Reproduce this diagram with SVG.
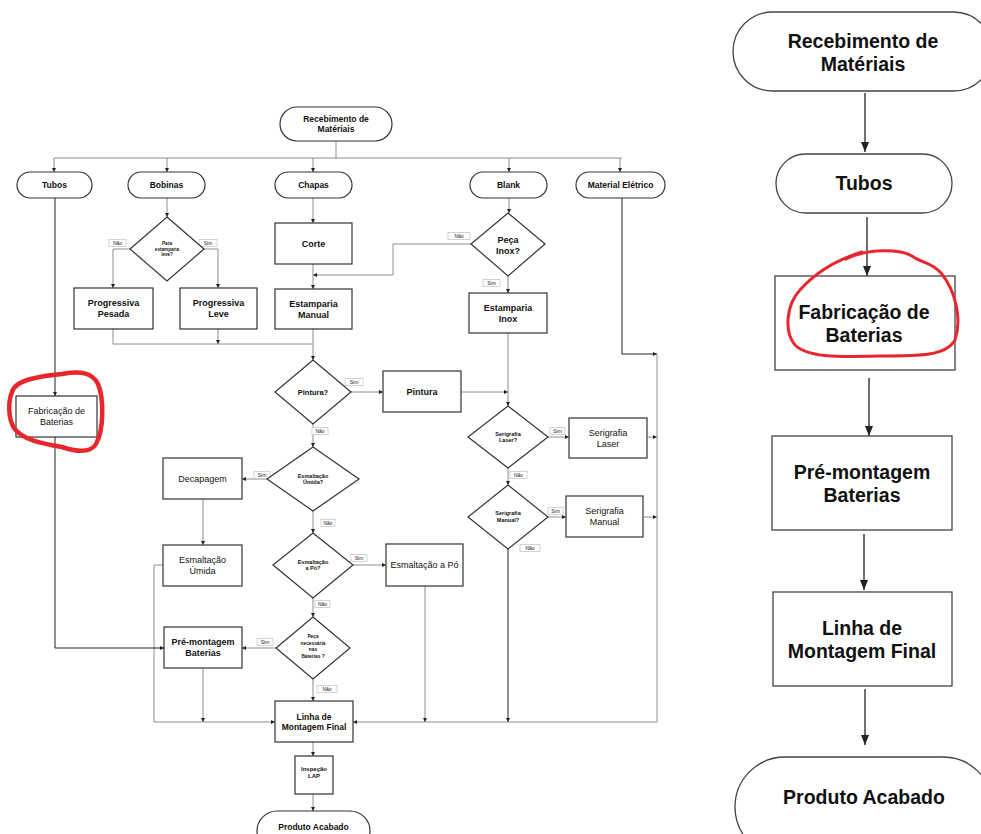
<svg xmlns="http://www.w3.org/2000/svg" width="981" height="834" viewBox="0 0 981 834">
  <style>
    text { font-family: "Liberation Sans", Arial, sans-serif; fill: #111; text-anchor: middle; }
    .shape { fill: #fff; stroke: #333; stroke-width: 1.2; }
    .t8 { font-size: 8.5px; font-weight: bold; }
    .t8r { font-size: 9px; }
    .tb { font-size: 9px; font-weight: bold; }
    .ts { font-size: 5.5px; font-weight: bold; }
    .tl { font-size: 5px; fill: #222; }
    .lbl { fill: #fff; stroke: #c8c8c8; stroke-width: 0.8; }
    .c { fill: none; stroke: #8e8e8e; stroke-width: 1; }
    .cd { fill: none; stroke: #222; stroke-width: 1; }
    .big { fill: #fff; stroke: #444; stroke-width: 1.3; }
    .tB { font-size: 19.5px; font-weight: bold; }
    .cB { fill: none; stroke: #333; stroke-width: 1.4; }
    .red { fill: none; stroke: #e8262d; stroke-linecap: round; stroke-linejoin: round; }
  </style>
  <defs>
    <marker id="ah" viewBox="0 0 6 6" refX="6" refY="3" markerWidth="4" markerHeight="4" orient="auto" markerUnits="userSpaceOnUse">
      <path d="M0,0 L6,3 L0,6 z" fill="#222"/>
    </marker>
    <marker id="AH" viewBox="0 0 10 8" refX="10" refY="4" markerWidth="10" markerHeight="8" orient="auto" markerUnits="userSpaceOnUse">
      <path d="M0,0 L10,4 L0,8 z" fill="#222"/>
    </marker>
  </defs>
  <rect width="981" height="834" fill="#fff"/>

  <!-- ===== Detailed process flow (left) ===== -->
  <g id="connectors-detail">
    <path class="c" d="M336,141 V158 M54,158 H622"/>
    <path class="c" d="M54,158 V172" marker-end="url(#ah)"/>
    <path class="c" d="M167,158 V172" marker-end="url(#ah)"/>
    <path class="c" d="M313,158 V172" marker-end="url(#ah)"/>
    <path class="c" d="M509,158 V172" marker-end="url(#ah)"/>
    <path class="c" d="M620,158 V172" marker-end="url(#ah)"/>
    <path class="c" d="M167,198 V217" marker-end="url(#ah)"/>
    <path class="c" d="M130,249 H113 V288" marker-end="url(#ah)"/>
    <path class="c" d="M204,249 H218 V288" marker-end="url(#ah)"/>
    <path class="c" d="M313,198 V223" marker-end="url(#ah)"/>
    <path class="c" d="M313,264 V289" marker-end="url(#ah)"/>
    <path class="c" d="M471,244 H393 V275 H313" marker-end="url(#ah)"/>
    <path class="c" d="M509,198 V213" marker-end="url(#ah)"/>
    <path class="c" d="M508,276 V293" marker-end="url(#ah)"/>
    <path class="c" d="M113,329 V344 H313"/>
    <path class="c" d="M218,329 V344" marker-end="url(#ah)"/>
    <path class="c" d="M313,329 V360" marker-end="url(#ah)"/>
    <path class="c" d="M351,392 H383" marker-end="url(#ah)"/>
    <path class="c" d="M461,392 H508" marker-end="url(#ah)"/>
    <path class="c" d="M508,333 V406" marker-end="url(#ah)"/>
    <path class="c" d="M548,437 H569" marker-end="url(#ah)"/>
    <path class="c" d="M647,437 H657" marker-end="url(#ah)"/>
    <path class="c" d="M508,468 V485" marker-end="url(#ah)"/>
    <path class="c" d="M548,517 H566" marker-end="url(#ah)"/>
    <path class="c" d="M643,517 H657" marker-end="url(#ah)"/>
    <path class="cd" d="M508,549 V722" marker-end="url(#ah)"/>
    <path class="cd" d="M622,198 V354 H657" marker-end="url(#ah)"/>
    <path class="c" d="M657,354 V722 H353" marker-end="url(#ah)"/>
    <path class="c" d="M313,424 V447" marker-end="url(#ah)"/>
    <path class="c" d="M267,479 H242" marker-end="url(#ah)"/>
    <path class="c" d="M203,499 V545" marker-end="url(#ah)"/>
    <path class="c" d="M163,565 H154 V722 H275" marker-end="url(#ah)"/>
    <path class="c" d="M313,511 V533" marker-end="url(#ah)"/>
    <path class="c" d="M353,565 H386" marker-end="url(#ah)"/>
    <path class="c" d="M425,586 V722" marker-end="url(#ah)"/>
    <path class="c" d="M313,598 V617" marker-end="url(#ah)"/>
    <path class="c" d="M276,648 H242" marker-end="url(#ah)"/>
    <path class="c" d="M203,668 V722" marker-end="url(#ah)"/>
    <path class="c" d="M313,679 V701" marker-end="url(#ah)"/>
    <path class="cd" d="M55,198 V396" marker-end="url(#ah)"/>
    <path class="cd" d="M55,437 V648 H164" marker-end="url(#ah)"/>
    <path class="c" d="M313,742 V756" marker-end="url(#ah)"/>
    <path class="c" d="M313,794 V811" marker-end="url(#ah)"/>
  </g>

  <g id="labels-detail">
    <rect class="lbl" x="109" y="239.5" width="17" height="7"/><text class="tl" x="117.5" y="245">Não</text>
    <rect class="lbl" x="199" y="239.5" width="18" height="7"/><text class="tl" x="208" y="245">Sim</text>
    <rect class="lbl" x="448" y="232.5" width="22" height="7"/><text class="tl" x="459" y="238">Não</text>
    <rect class="lbl" x="483" y="279.5" width="17" height="7"/><text class="tl" x="491.5" y="285">Sim</text>
    <rect class="lbl" x="345" y="378.5" width="18" height="7"/><text class="tl" x="354" y="384">Sim</text>
    <rect class="lbl" x="312" y="427.5" width="16" height="7"/><text class="tl" x="320" y="433">Não</text>
    <rect class="lbl" x="254" y="471.5" width="16" height="7"/><text class="tl" x="262" y="477">Sim</text>
    <rect class="lbl" x="321" y="519.5" width="14" height="7"/><text class="tl" x="328" y="525">Não</text>
    <rect class="lbl" x="351" y="554.5" width="16" height="7"/><text class="tl" x="359" y="560">Sim</text>
    <rect class="lbl" x="315" y="600.5" width="15" height="7"/><text class="tl" x="322.5" y="606">Não</text>
    <rect class="lbl" x="257" y="638.5" width="16" height="7"/><text class="tl" x="265" y="644">Sim</text>
    <rect class="lbl" x="317" y="685.5" width="20" height="7"/><text class="tl" x="327" y="691">Não</text>
    <rect class="lbl" x="550" y="427.5" width="15" height="7"/><text class="tl" x="557.5" y="433">Sim</text>
    <rect class="lbl" x="510" y="471.5" width="17" height="7"/><text class="tl" x="518.5" y="477">Não</text>
    <rect class="lbl" x="548" y="507.5" width="15" height="7"/><text class="tl" x="555.5" y="513">Sim</text>
    <rect class="lbl" x="520" y="544.5" width="20" height="7"/><text class="tl" x="530" y="550">Não</text>
  </g>

  <g id="n-receb">
    <rect class="shape" x="280" y="107" width="112" height="34" rx="17"/>
    <text class="t8" x="336" y="122">Recebimento de</text>
    <text class="t8" x="336" y="132">Matériais</text>
  </g>
  <g id="n-tubos"><rect class="shape" x="17" y="172" width="75" height="26" rx="13"/><text class="t8" x="54.5" y="188">Tubos</text></g>
  <g id="n-bobinas"><rect class="shape" x="128" y="172" width="77" height="26" rx="13"/><text class="t8" x="166.5" y="188">Bobinas</text></g>
  <g id="n-chapas"><rect class="shape" x="275" y="172" width="77" height="26" rx="13"/><text class="t8" x="313.5" y="188">Chapas</text></g>
  <g id="n-blank"><rect class="shape" x="470" y="172" width="77" height="26" rx="13"/><text class="t8" x="508.5" y="188">Blank</text></g>
  <g id="n-material"><rect class="shape" x="576" y="172" width="89" height="26" rx="13"/><text class="t8" x="620.5" y="188">Material Elétrico</text></g>

  <g id="d-estamp-leve">
    <polygon class="shape" points="167,217 204,249 167,281 130,249"/>
    <text class="ts" x="167" y="245" style="font-size:4.6px">Para</text>
    <text class="ts" x="167" y="250.5" style="font-size:4.6px">estamparia</text>
    <text class="ts" x="167" y="256" style="font-size:4.6px">leve?</text>
  </g>
  <g id="n-prog-pesada"><rect class="shape" x="74" y="288" width="79" height="41"/><text class="tb" x="113.5" y="306">Progressiva</text><text class="tb" x="113.5" y="317">Pesada</text></g>
  <g id="n-prog-leve"><rect class="shape" x="180" y="288" width="77" height="41"/><text class="tb" x="218.5" y="306">Progressiva</text><text class="tb" x="218.5" y="317">Leve</text></g>
  <g id="n-corte"><rect class="shape" x="275" y="223" width="77" height="41"/><text class="tb" x="313.5" y="247">Corte</text></g>
  <g id="n-estamp-manual"><rect class="shape" x="275" y="289" width="77" height="40"/><text class="tb" x="313.5" y="307">Estamparia</text><text class="tb" x="313.5" y="318">Manual</text></g>

  <g id="d-inox">
    <polygon class="shape" points="508,213 545,244 508,276 471,244"/>
    <text class="tb" x="508" y="243">Peça</text>
    <text class="tb" x="508" y="254">Inox?</text>
  </g>
  <g id="n-estamp-inox"><rect class="shape" x="469" y="293" width="78" height="40"/><text class="tb" x="508" y="311">Estamparia</text><text class="tb" x="508" y="322">Inox</text></g>

  <g id="n-fabricacao"><rect class="shape" x="16" y="396" width="81" height="41"/><text class="t8r" x="56.5" y="414">Fabricação de</text><text class="t8r" x="56.5" y="425">Baterias</text></g>

  <g id="d-pintura"><polygon class="shape" points="313,360 351,392 313,424 275,392"/><text class="ts" x="313" y="395" style="font-size:7.5px">Pintura?</text></g>
  <g id="n-pintura"><rect class="shape" x="383" y="371" width="78" height="41"/><text class="tb" x="422" y="395">Pintura</text></g>

  <g id="d-ser-laser"><polygon class="shape" points="508,406 548,437 508,468 468,437"/><text class="ts" x="508" y="435.5">Serigrafia</text><text class="ts" x="508" y="442">Laser?</text></g>
  <g id="n-ser-laser"><rect class="shape" x="569" y="418" width="78" height="40"/><text class="t8r" x="608" y="436">Serigrafia</text><text class="t8r" x="608" y="447">Laser</text></g>
  <g id="d-ser-manual"><polygon class="shape" points="508,485 548,517 508,549 468,517"/><text class="ts" x="508" y="515">Serigrafia</text><text class="ts" x="508" y="521.5">Manual?</text></g>
  <g id="n-ser-manual"><rect class="shape" x="566" y="496" width="77" height="41"/><text class="t8r" x="604.5" y="514">Serigrafia</text><text class="t8r" x="604.5" y="525">Manual</text></g>

  <g id="d-esm-umida"><polygon class="shape" points="313,447 359,479 313,511 267,479"/><text class="ts" x="313" y="477.5">Esmaltação</text><text class="ts" x="313" y="484">Úmida?</text></g>
  <g id="n-decapagem"><rect class="shape" x="163" y="458" width="79" height="41"/><text class="t8r" x="202.5" y="482">Decapagem</text></g>
  <g id="n-esm-umida"><rect class="shape" x="163" y="545" width="79" height="41"/><text class="t8r" x="202.5" y="563">Esmaltação</text><text class="t8r" x="202.5" y="574">Úmida</text></g>

  <g id="d-esm-po"><polygon class="shape" points="313,533 353,565 313,598 273,565"/><text class="ts" x="313" y="563.5">Esmaltação</text><text class="ts" x="313" y="570">a Pó?</text></g>
  <g id="n-esm-po"><rect class="shape" x="386" y="544" width="77" height="42"/><text class="t8r" x="424.5" y="568">Esmaltação a Pó</text></g>

  <g id="d-peca-nec">
    <polygon class="shape" points="313,617 350,648 313,679 276,648"/>
    <text class="ts" x="313" y="638" style="font-size:4.8px">Peça</text>
    <text class="ts" x="313" y="644.5" style="font-size:4.8px">necessária</text>
    <text class="ts" x="313" y="651" style="font-size:4.8px">nas</text>
    <text class="ts" x="313" y="657.5" style="font-size:4.8px">Baterias ?</text>
  </g>
  <g id="n-pre-montagem"><rect class="shape" x="164" y="627" width="78" height="41"/><text class="tb" x="203" y="645">Pré-montagem</text><text class="tb" x="203" y="656">Baterias</text></g>

  <g id="n-linha"><rect class="shape" x="275" y="701" width="78" height="41"/><text class="t8" x="314" y="720">Linha de</text><text class="t8" x="314" y="730">Montagem Final</text></g>
  <g id="n-inspecao"><rect class="shape" x="295" y="756" width="38" height="38"/><text class="ts" x="314" y="771" style="font-size:6px">Inspeção</text><text class="ts" x="314" y="778" style="font-size:6px">LAP</text></g>
  <g id="n-produto"><rect class="shape" x="257" y="811" width="113" height="40" rx="20"/><text class="t8" x="313.5" y="830">Produto Acabado</text></g>

  <!-- ===== Simplified battery route (right) ===== -->
  <g id="connectors-route">
    <path class="cB" d="M865,93 V152" marker-end="url(#AH)"/>
    <path class="cB" d="M867,217 V276" marker-end="url(#AH)"/>
    <path class="cB" d="M869,378 V436" marker-end="url(#AH)"/>
    <path class="cB" d="M864,534 V590" marker-end="url(#AH)"/>
    <path class="cB" d="M865,689 V745" marker-end="url(#AH)"/>
  </g>
  <g id="r-receb">
    <rect class="big" x="733" y="12" width="260" height="79" rx="39.5"/>
    <text class="tB" x="863" y="48">Recebimento de</text>
    <text class="tB" x="863" y="71">Matériais</text>
  </g>
  <g id="r-tubos"><rect class="big" x="776" y="154" width="176" height="59" rx="29.5"/><text class="tB" x="864" y="190">Tubos</text></g>
  <g id="r-fabricacao"><rect class="big" x="775" y="276" width="180" height="94"/><text class="tB" x="864" y="319">Fabricação de</text><text class="tB" x="864" y="342">Baterias</text></g>
  <g id="r-pre-montagem"><rect class="big" x="772" y="436" width="180" height="94"/><text class="tB" x="862" y="479">Pré-montagem</text><text class="tB" x="862" y="502">Baterias</text></g>
  <g id="r-linha"><rect class="big" x="773" y="592" width="179" height="94"/><text class="tB" x="862" y="635">Linha de</text><text class="tB" x="862" y="658">Montagem Final</text></g>
  <g id="r-produto"><rect class="big" x="735" y="757" width="258" height="100" rx="50"/><text class="tB" x="864" y="804">Produto Acabado</text></g>

  <!-- hand-drawn highlight loops -->
  <path class="red" stroke-width="4.5" d="M12,392 C15,380 40,376 62,374 C80,371 92,372 98,384 C104,398 104,430 96,444 C90,454 74,451 62,447 C44,444 22,440 14,428 C8,418 8,402 12,392 Z"/>
  <path class="red" stroke-width="3" d="M846,259 C868,248 900,249 912,256 C921,263 931,262 941,273 C956,291 962,320 955,340 C946,356 920,356 880,356 C840,357 808,358 795,345 C784,332 786,305 800,290 C815,273 836,260 862,252"/>
</svg>
